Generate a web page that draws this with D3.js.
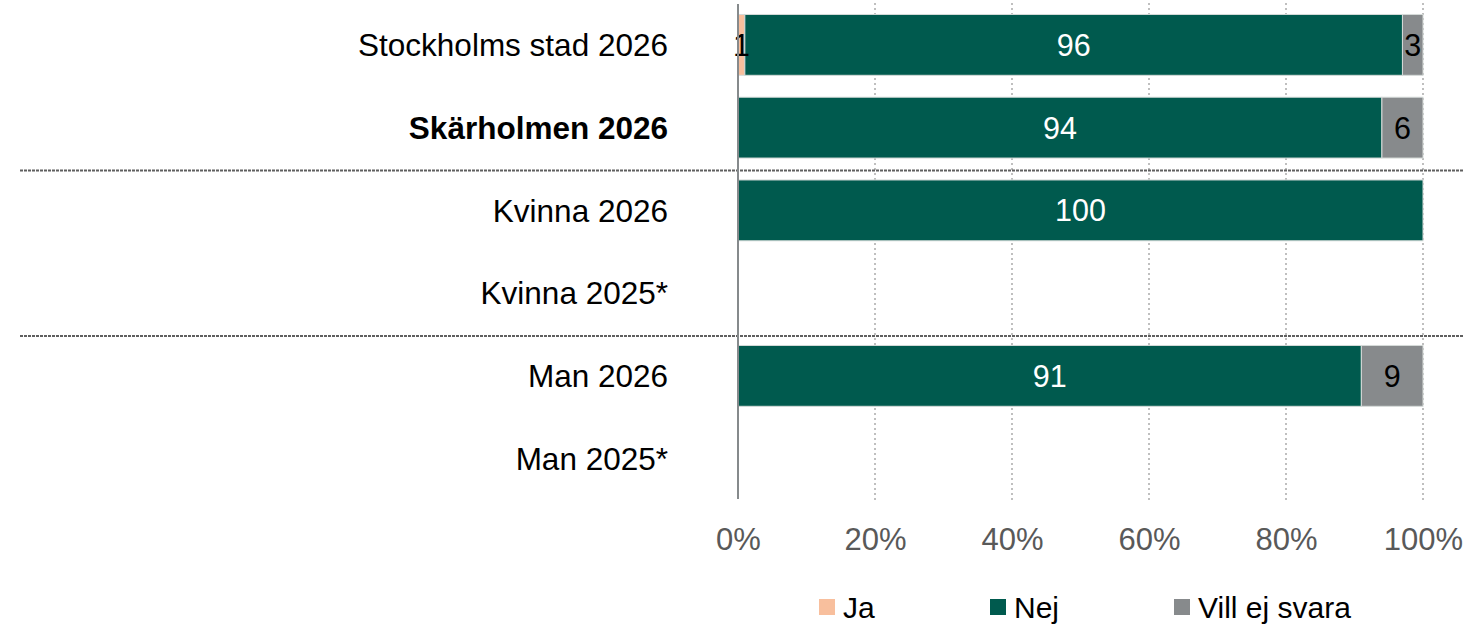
<!DOCTYPE html>
<html>
<head>
<meta charset="utf-8">
<script src="https://cdn.jsdelivr.net/npm/d3@7"></script>
<style>
  html, body { margin: 0; padding: 0; background: #fff; }
  svg { display: block; font-family: "Liberation Sans", Arial, sans-serif; }
</style>
</head>
<body>
<svg id="chart" width="1481" height="626"></svg>
<script>
// Response shares (%) per group
const categories = ["Stockholms stad 2026", "Skärholmen 2026", "Kvinna 2026", "Kvinna 2025*", "Man 2026", "Man 2025*"];
const highlighted = ["Skärholmen 2026"];
const seriesNames = ["Ja", "Nej", "Vill ej svara"];
const ja    = [1, 0, 0, null, 0, null];
const nej   = [96, 94, 100, null, 91, null];
const villEj = [3, 6, 0, null, 9, null];
const tickValues = [0, 20, 40, 60, 80, 100];
const separatorsAfter = ["Skärholmen 2026", "Kvinna 2025*"];

const colors = { "Ja": "#F8BF9D", "Nej": "#005A4E", "Vill ej svara": "#878A8C" };
const labelColors = { "Ja": "#000", "Nej": "#fff", "Vill ej svara": "#000" };

const svg = d3.select("#chart");
const margin = { left: 738, right: 58, top: 3.5, bottom: 126 };
const W = 1481, H = 626;

const x = d3.scaleLinear().domain([0, 100]).range([margin.left, W - margin.right]);
const y = d3.scaleBand().domain(categories).range([margin.top, H - margin.bottom]).paddingInner(0.265).paddingOuter(0.1325);

const rows = categories.map((c, i) => ({ cat: c, vals: [ja[i], nej[i], villEj[i]] }));
const stackData = rows.map(r => {
  const o = { cat: r.cat };
  seriesNames.forEach((s, k) => o[s] = r.vals[k] || 0);
  return o;
});
const stacked = d3.stack().keys(seriesNames)(stackData);

// Vertical gridlines
svg.append("g").selectAll("line").data(tickValues.filter(d => d > 0)).join("line")
  .attr("x1", d => x(d)).attr("x2", d => x(d))
  .attr("y1", 3).attr("y2", 500)
  .attr("stroke", "#BFBFBF").attr("stroke-width", 2).attr("stroke-dasharray", "2,3");

// Bars
const layer = svg.append("g").selectAll("g").data(stacked).join("g")
  .attr("fill", d => colors[d.key]);
layer.selectAll("rect").data(d => d.map(p => ({ key: d.key, p }))).join("rect")
  .filter(d => d.p[1] - d.p[0] > 0)
  .attr("x", d => x(d.p[0]))
  .attr("width", d => x(d.p[1]) - x(d.p[0]))
  .attr("y", d => y(d.p.data.cat))
  .attr("height", y.bandwidth())
  .attr("stroke", "#D6DBD9").attr("stroke-width", 1);

// Value labels
const labels = svg.append("g");
stacked.forEach(s => {
  s.forEach(p => {
    const v = p[1] - p[0];
    if (v > 0) {
      labels.append("text")
        .attr("x", (x(p[0]) + x(p[1])) / 2)
        .attr("y", y(p.data.cat) + y.bandwidth() / 2)
        .attr("dy", "0.36em")
        .attr("text-anchor", "middle")
        .attr("font-size", 30.5)
        .attr("fill", labelColors[s.key])
        .text(d3.format("d")(v));
    }
  });
});

// Group separators
separatorsAfter.forEach(c => {
  const yy = y(c) + y.bandwidth() + y.step() * y.paddingInner() / 2 + 1.5;
  svg.append("line")
    .attr("x1", 20).attr("x2", 1463).attr("y1", yy).attr("y2", yy)
    .attr("stroke", "#5f5f5f").attr("stroke-width", 2).attr("stroke-dasharray", "3,1");
});

// Category axis line
svg.append("line")
  .attr("x1", x(0)).attr("x2", x(0)).attr("y1", 4).attr("y2", 499)
  .attr("stroke", "#868A8C").attr("stroke-width", 2);

// Category labels
svg.append("g").selectAll("text").data(categories).join("text")
  .attr("x", 668)
  .attr("y", d => y(d) + y.bandwidth() / 2)
  .attr("dy", "0.36em")
  .attr("text-anchor", "end")
  .attr("font-size", 31.5)
  .attr("font-weight", d => highlighted.includes(d) ? "bold" : "normal")
  .attr("fill", "#000")
  .text(d => d);

// Percent axis
const xAxis = d3.axisBottom(x).tickValues(tickValues).tickFormat(d => d + "%").tickSize(0).tickPadding(0);
const gx = svg.append("g").attr("transform", "translate(0,527)").call(xAxis);
gx.select(".domain").remove();
gx.selectAll("text")
  .attr("font-size", 31)
  .attr("font-family", "Liberation Sans, Arial, sans-serif")
  .attr("fill", "#595959")
  .attr("dy", "0.75em")
  .attr("y", 0);

// Legend
const legendX = [819, 990, 1174];
const lg = svg.append("g").selectAll("g").data(seriesNames).join("g")
  .attr("transform", (d, i) => `translate(${legendX[i]},0)`);
lg.append("rect").attr("x", 0).attr("y", 599).attr("width", 16).attr("height", 16)
  .attr("fill", d => colors[d]);
lg.append("text").attr("x", 24).attr("y", 618)
  .attr("font-size", 30).attr("fill", "#000").text(d => d);
</script>
</body>
</html>
